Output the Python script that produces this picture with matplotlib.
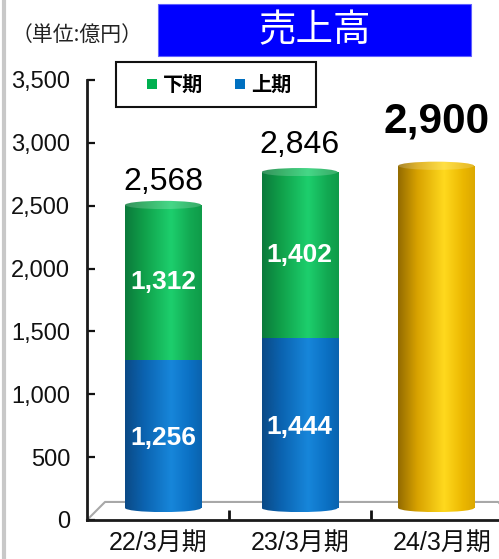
import numpy as np
import matplotlib
matplotlib.use("Agg")
import matplotlib.pyplot as plt
from matplotlib.colors import LinearSegmentedColormap, to_rgb
from matplotlib.patches import Ellipse, Rectangle
from matplotlib.lines import Line2D

# data (億円)
periods = ["22/3月期", "23/3月期", "24/3月期"]
first_half = [1256, 1444]      # 上期
second_half = [1312, 1402]     # 下期
forecast = 2900                # 24/3月期 予想
y_ticks = [0, 500, 1000, 1500, 2000, 2500, 3000, 3500]

FONT = ["Liberation Sans", "Noto Sans CJK JP", "DejaVu Sans"]
JP = ["Noto Sans CJK JP", "DejaVu Sans"]
plt.rcParams["font.family"] = FONT

BLUE = [(0, "#0b4a86"), (0.25, "#0b63b0"), (0.6, "#1786da"), (0.85, "#0b70c3"), (1, "#0a63ae")]
GREEN = [(0, "#0b7a3b"), (0.25, "#10a04a"), (0.6, "#1dcf6d"), (0.85, "#12a952"), (1, "#0f9b49")]
GOLD = [(0, "#936b00"), (0.25, "#d8a200"), (0.6, "#ffd91e"), (0.85, "#ebb700"), (1, "#dca800")]

BAR_W = 0.557
CAP_H = 70
GRAD = np.linspace(0, 1, 256).reshape(1, -1)


def make_cmap(stops, lighten=0.0):
    cols = []
    for pos, c in stops:
        r, g, b = to_rgb(c)
        cols.append((pos, (r + (1 - r) * lighten, g + (1 - g) * lighten, b + (1 - b) * lighten)))
    return LinearSegmentedColormap.from_list("cyl", cols)


def shade(ax, shape, cmap, extent):
    im = ax.imshow(GRAD, cmap=cmap, extent=extent, aspect="auto",
                   interpolation="bicubic", zorder=3)
    im.set_clip_path(shape)


def cylinder(ax, x, bottom, height, stops, top_cap=False, base_cap=False):
    cmap = make_cmap(stops)
    x0, x1 = x - BAR_W / 2, x + BAR_W / 2
    bar = ax.bar(x, height, BAR_W, bottom=bottom, color="none", linewidth=0, zorder=3)[0]
    shade(ax, bar, cmap, (x0, x1, bottom, bottom + height))
    if base_cap:
        e = Ellipse((x, bottom), BAR_W, CAP_H, facecolor="none", edgecolor="none")
        ax.add_patch(e)
        shade(ax, e, cmap, (x0, x1, bottom - CAP_H / 2, bottom + CAP_H / 2))
    if top_cap:
        top = bottom + height
        e = Ellipse((x, top), BAR_W, CAP_H, facecolor="none", edgecolor="none")
        ax.add_patch(e)
        shade(ax, e, make_cmap(stops, 0.18), (x0, x1, top - CAP_H / 2, top + CAP_H / 2))


fig = plt.figure(figsize=(4.99, 5.59), dpi=100)
W, H = 499, 559
ax_rect = [87 / W, (H - 520) / H, 412 / W, 440 / H]

# front axis (scale, ticks, floor)
ax = fig.add_axes(ax_rect)
ax.set_xlim(-0.5, 2.4)
ax.set_ylim(0, 3500)
ax.set_yticks(y_ticks)
ax.set_yticklabels([f"{v:,}" for v in y_ticks], fontsize=17)
ax.set_xticks(range(len(periods)))
ax.set_xticklabels(periods, fontsize=18)
ax.set_xticks([0.5, 1.5], minor=True)
ax.tick_params(axis="y", direction="in", length=6, width=1.6, pad=12, colors="#111111")
ax.tick_params(axis="x", which="major", length=0, pad=8, colors="#111111")
ax.tick_params(axis="x", which="minor", direction="in", length=7, width=2, color="#111111")
for s in ("top", "right"):
    ax.spines[s].set_visible(False)
for s in ("left", "bottom"):
    ax.spines[s].set_linewidth(2)
    ax.spines[s].set_color("#1a1a1a")
floor = Line2D([0, 0.0437, 0.998, 1.04], [0, 0.041, 0.041, 0], transform=ax.transAxes,
               color="#a8a8a8", lw=1.5, clip_on=False, zorder=1)
ax.add_line(floor)

# back plane where the cylinders stand
bx = fig.add_axes(ax_rect)
bx.patch.set_visible(False)
bx.set_axis_off()

for i in range(len(first_half)):
    cylinder(bx, i, 0, first_half[i], BLUE, base_cap=True)
    cylinder(bx, i, first_half[i], second_half[i], GREEN, top_cap=True)
    bx.annotate(f"{first_half[i]:,}", (i, first_half[i] / 2), xytext=(0, -3),
                textcoords="offset points", ha="center", va="center",
                color="white", fontsize=19, fontweight="bold", zorder=5)
    bx.text(i, first_half[i] + second_half[i] / 2, f"{second_half[i]:,}", ha="center",
            va="center", color="white", fontsize=19, fontweight="bold", zorder=5)
cylinder(bx, 2, 0, forecast, GOLD, top_cap=True, base_cap=True)

totals = [first_half[0] + second_half[0], first_half[1] + second_half[1], forecast]
offsets = [11, 13.5, 24]
for i, t in enumerate(totals):
    bold = i == 2
    bx.annotate(f"{t:,}", (i, t), xytext=(0, offsets[i]), textcoords="offset points",
                ha="center", va="baseline", fontsize=30.5 if bold else 23,
                fontweight="bold" if bold else "normal", color="black", zorder=5)

bx.set_xlim(-0.557, 2.46)
bx.set_ylim(-102, 3627)

# title box
fig.add_artist(Rectangle((158 / W, 1 - 56 / H), 313 / W, 52 / H, transform=fig.transFigure,
                         facecolor="#0000ff", edgecolor="#6060ff", lw=0.8))
fig.text(314.5 / W, 1 - 31 / H, "売上高", ha="center", va="center", color="white",
         fontsize=27, family=JP)
fig.text(12 / W, 1 - 35 / H, "（単位:億円）", ha="left", va="center", color="#222222",
         fontsize=15, family=JP)

# legend
fig.add_artist(Rectangle((116 / W, 1 - 107 / H), 200 / W, 45 / H, transform=fig.transFigure,
                         facecolor="white", edgecolor="#111111", lw=1.5, zorder=6))
legend_items = [("下期", "#00b050", 147), ("上期", "#0070c0", 235)]
for name, col, px in legend_items:
    fig.add_artist(Rectangle((px / W, 1 - 89 / H), 10 / W, 10 / H, transform=fig.transFigure,
                             facecolor=col, edgecolor="none", zorder=7))
    fig.text((px + 16) / W, 1 - 84 / H, name, ha="left", va="center", fontsize=14.5,
             fontweight="bold", family=JP, zorder=7)

# left page border
fig.add_artist(Line2D([4 / W, 4 / W], [0, 1], transform=fig.transFigure, color="#c8c8c8", lw=3))

fig.savefig("out.png", dpi=100)
